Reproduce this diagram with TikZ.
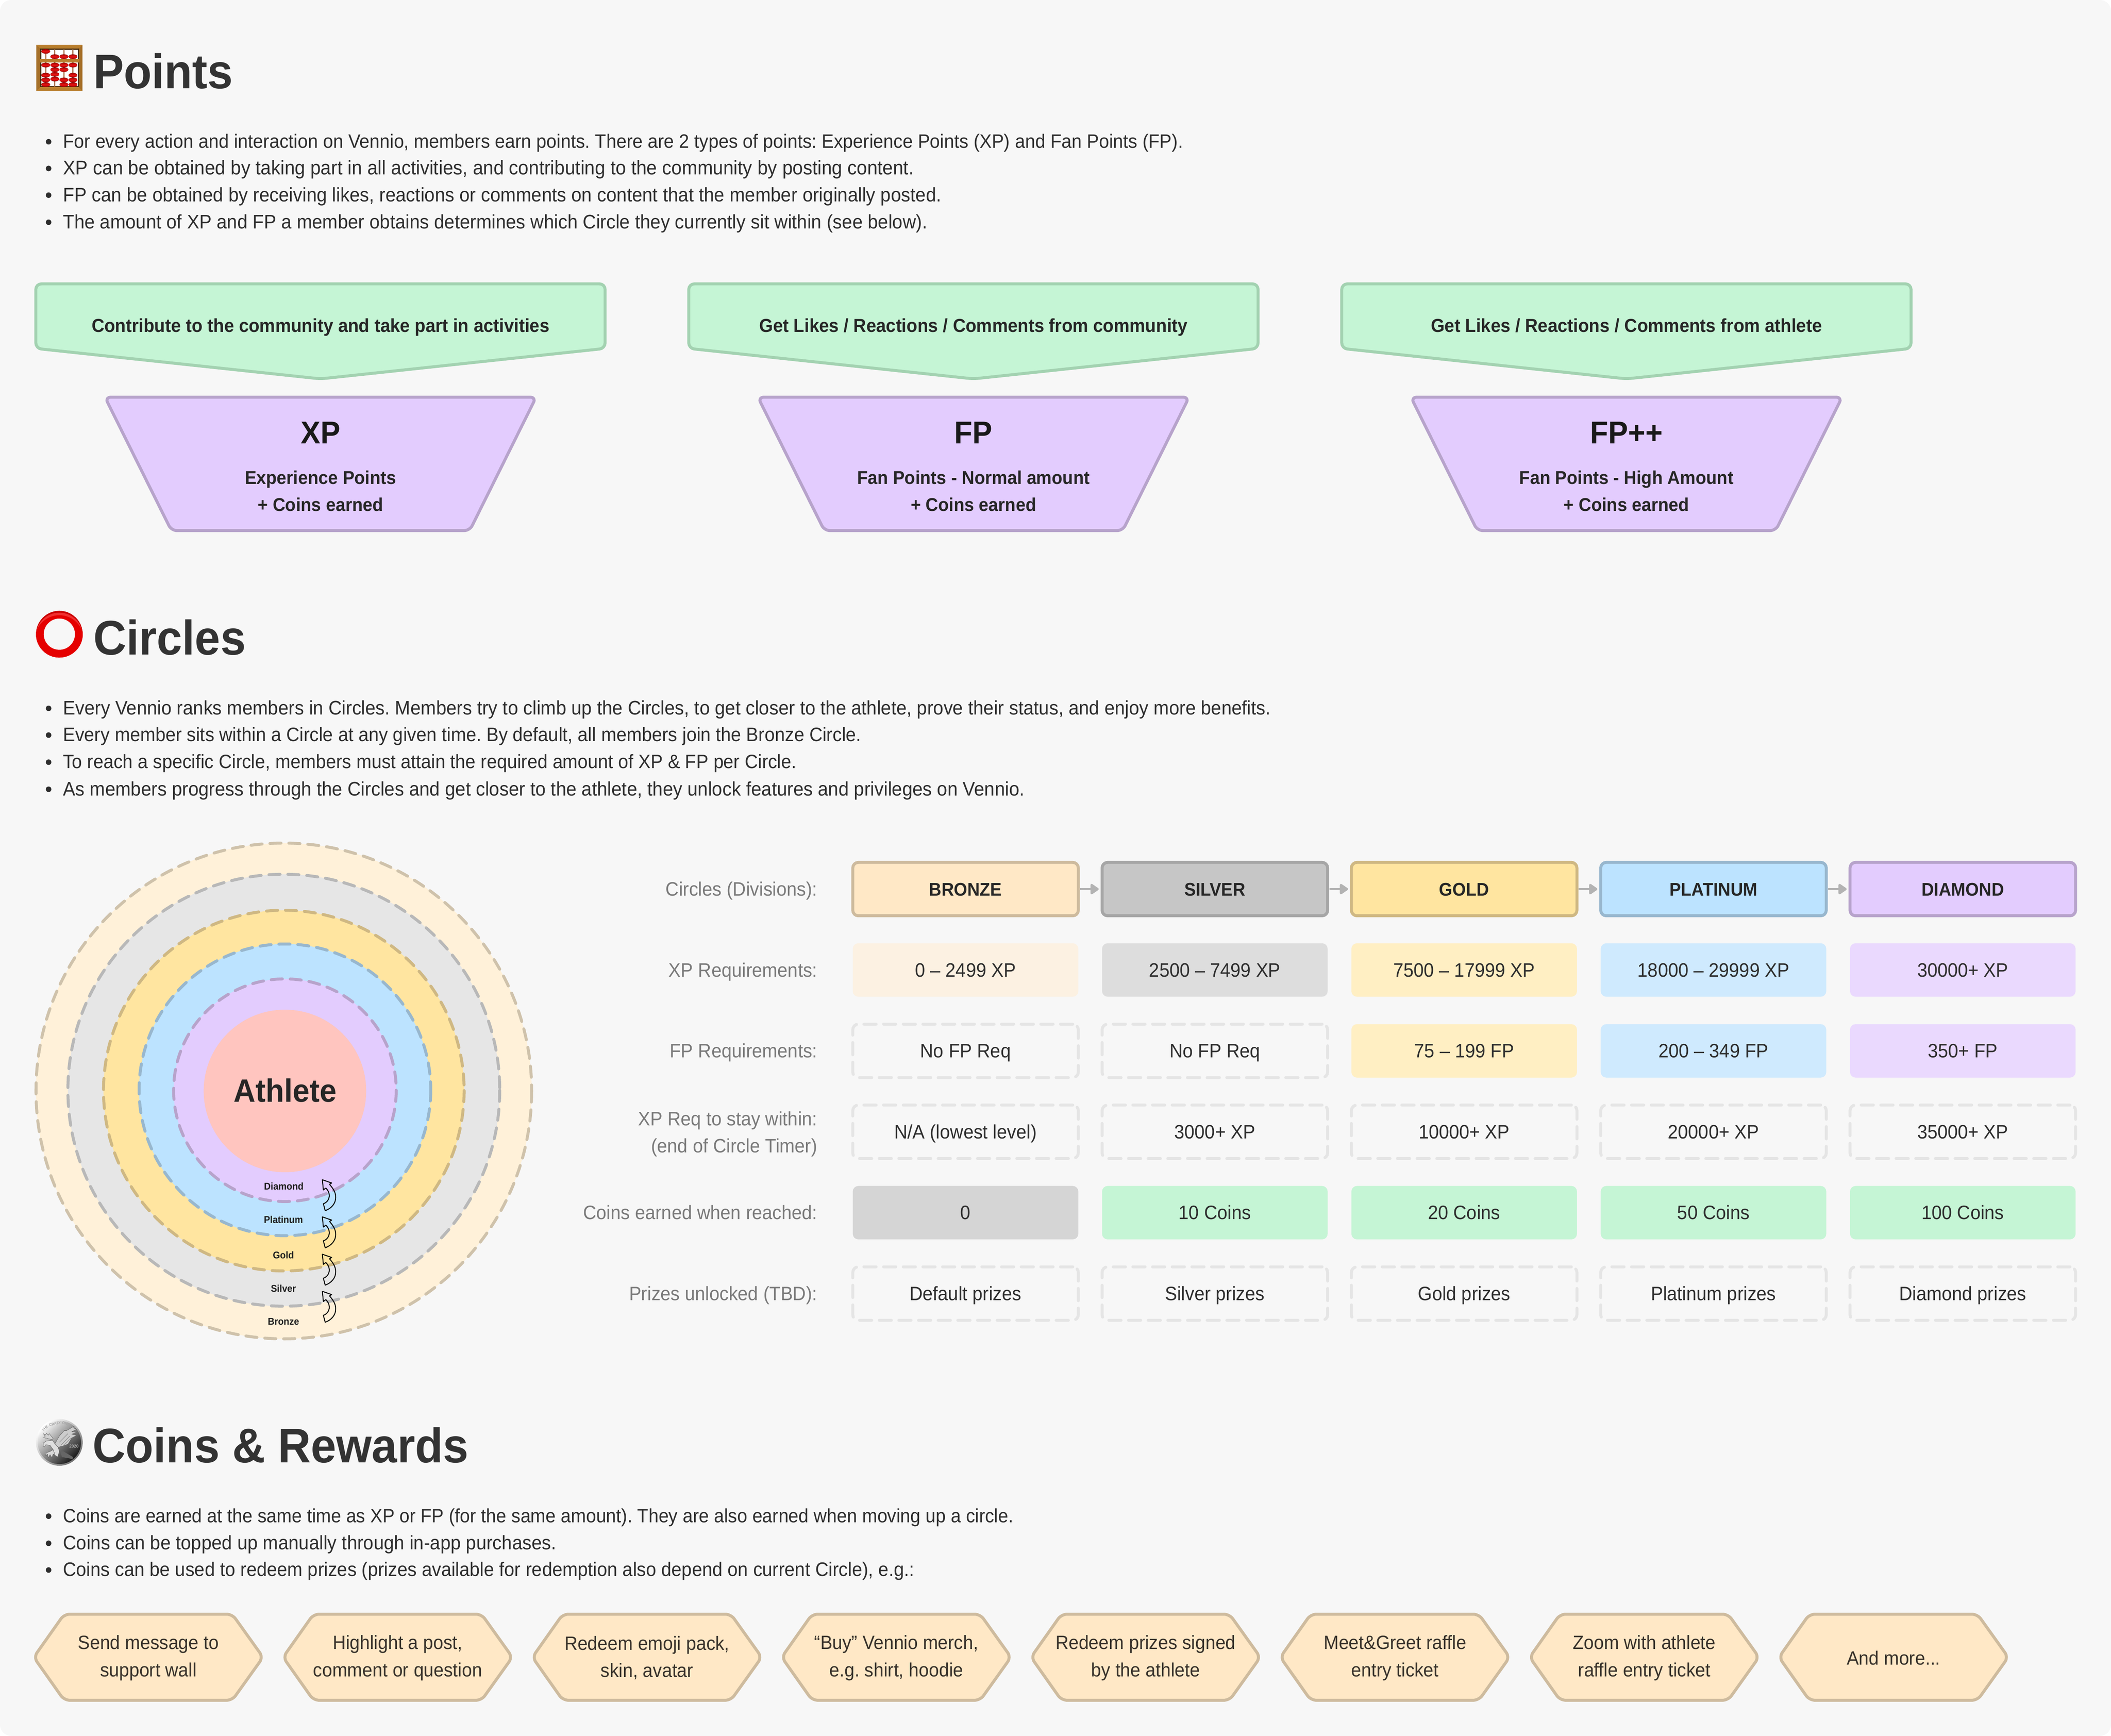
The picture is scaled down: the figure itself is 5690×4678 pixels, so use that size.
\documentclass[tikz,border=0pt]{standalone}
\usepackage{fontspec}
\setmainfont[FakeStretch=0.94]{Liberation Sans}
\usetikzlibrary{arrows.meta,calc,shapes.geometric}
\AtBeginDocument{\frenchspacing}
\definecolor{pagebg}{HTML}{F7F7F7}
\definecolor{headc}{HTML}{333333}
\definecolor{bodyc}{HTML}{2E2E2E}
\definecolor{labc}{HTML}{7A7A7A}
\definecolor{greenf}{HTML}{C5F5D5}
\definecolor{greenb}{HTML}{A3D2B1}
\definecolor{purf}{HTML}{E3CCFE}
\definecolor{purb}{HTML}{B7A3CB}
\definecolor{brzf}{HTML}{FFE8C6}
\definecolor{brzb}{HTML}{CEBB9E}
\definecolor{brzl}{HTML}{FCF1E2}
\definecolor{silf}{HTML}{C6C6C6}
\definecolor{silb}{HTML}{A6A6A6}
\definecolor{sill}{HTML}{DDDDDD}
\definecolor{gldf}{HTML}{FFE5A0}
\definecolor{gldb}{HTML}{CFB883}
\definecolor{gldl}{HTML}{FFEFC3}
\definecolor{plaf}{HTML}{BCE3FF}
\definecolor{plab}{HTML}{98B7CE}
\definecolor{plal}{HTML}{CFEAFE}
\definecolor{diaf}{HTML}{E3CCFE}
\definecolor{diab}{HTML}{B7A3CB}
\definecolor{dial}{HTML}{EAD9FE}
\definecolor{ringbz}{HTML}{FFF1D9}
\definecolor{ringbzb}{HTML}{CFC2AB}
\definecolor{ringsi}{HTML}{E6E6E6}
\definecolor{ringsib}{HTML}{B8B8B8}
\definecolor{athf}{HTML}{FFC5BF}
\definecolor{dashc}{HTML}{E5E5E5}
\definecolor{zero}{HTML}{D5D5D5}
\definecolor{arrowc}{HTML}{B3B3B3}
\definecolor{hext}{HTML}{38322B}
\definecolor{wood}{HTML}{B97F2E}
\definecolor{woodd}{HTML}{4A2E0C}
\definecolor{woodl}{HTML}{A56F28}
\definecolor{rod}{HTML}{B07A5A}
\definecolor{beadm}{HTML}{E81414}
\definecolor{beadd}{HTML}{A00000}
\definecolor{ringred}{HTML}{E50000}
\definecolor{ringhi}{HTML}{F03030}
\definecolor{ringdk}{HTML}{C90000}
\tikzset{
  heading/.style={anchor=base west,inner sep=0pt,text=headc,font=\fontsize{13.1}{14}\selectfont\bfseries},
  bullettext/.style={anchor=base west,inner sep=0pt,text=bodyc},
  bulletdot/.style={circle,fill=bodyc,inner sep=0pt,minimum size=1.5pt},
  greenshape/.style={fill=greenf,draw=greenb,line width=.8pt,rounded corners=1.5pt},
  purshape/.style={fill=purf,draw=purb,line width=.8pt,rounded corners=1.5pt},
  greentext/.style={anchor=base,inner sep=0pt,text=black!85,font=\fontsize{5.07}{7}\selectfont\bfseries},
  purbig/.style={anchor=base,inner sep=0pt,text=black!90,font=\fontsize{8.5}{9}\selectfont\bfseries},
  pursmall/.style={inner sep=0pt,align=center,text=black!85,font=\fontsize{5}{7.3}\selectfont\bfseries},
  cell/.style={rectangle,rounded corners=1.5pt,minimum width=60.8pt,minimum height=14.4pt,inner sep=0pt,outer sep=0pt,align=center,text height=4pt,text depth=.3pt,text=bodyc,font=\fontsize{5.25}{7}\selectfont},
  divcell/.style={cell,line width=.8pt,text=black!85,font=\fontsize{4.95}{7}\selectfont\bfseries},
  dashcell/.style={cell,draw=dashc,line width=.8pt,line cap=round,dash pattern=on 3.3pt off 2pt},
  rowlab/.style={anchor=east,inner sep=0pt,align=right,text=labc,font=\fontsize{5.25}{7.3}\selectfont},
  rowlabone/.style={rowlab,text height=4pt,text depth=.3pt},
  ringc/.style={line width=.8pt,line cap=round,dash pattern=on 3pt off 2.1pt},
  ringlab/.style={inner sep=0pt,text=black!88,font=\fontsize{2.65}{3}\selectfont\bfseries},
  curvearrow/.style={draw=black,line width=.25pt,line join=round},
  steparrow/.style={draw=arrowc,line width=.65pt,shorten <=.5pt,shorten >=.9pt,-{Triangle[length=2.5pt,width=3.2pt,round,fill=arrowc]}},
  hexshape/.style={fill=brzf,draw=brzb,line width=.8pt,rounded corners=1.5pt},
  hextext/.style={inner sep=0pt,align=center,text=hext,font=\fontsize{5.19}{7.3}\selectfont},
  eagle/.style={draw=black!65,line width=.07pt,line join=round},
  cointext/.style={inner sep=0pt,text=gray!70,font=\fontsize{1}{1.2}\selectfont\bfseries},
}
\newcommand{\abbead}[2]{\fill[top color=beadd,bottom color=beadd,middle color=beadm] (#1,80+#2/3) ellipse [x radius=11.8,y radius=6.2];}
\newcommand{\hexagonbox}[3]{%
  \draw[hexshape] (#2+91,4466) -- (#2+173,4350) -- (#2+626,4350) -- (#2+709,4466) -- (#2+626,4582) -- (#2+173,4582) -- cycle;
  \node[hextext] (#1) at (#2+400,4468) {#3};
}
\newcommand{\curvedarrow}[1]{%
  \begin{scope}[shift={(550,3100+#1)},x=.03333pt,y=-.03333pt]
    \draw[curvearrow] (957,238) -- (1032,264) -- (1015,275) .. controls (1045,310) and (1065,340) .. (1065,380) .. controls (1065,430) and (1030,470) .. (980,488) -- (965,432) .. controls (995,422) and (1013,395) .. (1013,365) .. controls (1013,340) and (1000,320) .. (985,305) -- (965,320) -- cycle;
  \end{scope}
}
\newcommand{\bulletline}[4]{%
  \node[bulletdot] (#1d) at (131,#2-17) {};
  \node[bullettext,font=\fontsize{#3}{7}\selectfont] (#1) at (168,#2) {#4};
}
\newcommand{\pointcard}[6]{%
  \draw[greenshape] (#1+96.5,765) -- (#1+1631,765) -- (#1+1631,939) -- (#1+864,1021) -- (#1+96.5,939) -- cycle;
  \node[greentext] (#2g) at (#1+864,895) {#3};
  \draw[purshape] (#1+283,1070.5) -- (#1+1445,1070.5) -- (#1+1266,1430) -- (#1+462,1430) -- cycle;
  \node[purbig] (#2b) at (#1+864,1195) {#4};
  \node[pursmall] (#2s) at (#1+864,1323) {#5\\#6};
}
\newcommand{\iconabacus}{%
  \fill[wood] (98,121) rectangle (222.4,245.7);
  \fill[woodl] (98,121) -- (109,131.7) -- (109,234) -- (98,245.7) -- cycle;
  \fill[woodl] (222.4,121) -- (212,131.7) -- (212,234) -- (222.4,245.7) -- cycle;
  \fill[woodd] (108,130.5) rectangle (213,235);
  \fill[white] (111,134) rectangle (210,232);
  \foreach \rx in {123.3,147.8,172.2,196.7} \fill[rod] (\rx-1.7,133) rectangle (\rx+1.7,233);
  \fill[wood] (108,159) rectangle (213,168);
  \foreach \bx/\by in {123.3/175,147.8/218,172.2/218,196.7/218,
    123.3/286,123.3/368,123.3/406,123.3/444,
    147.8/286,147.8/323,147.8/361,147.8/399,
    172.2/286,172.2/323,172.2/406,172.2/444,
    196.7/286,196.7/368,196.7/406,196.7/444} {\abbead{\bx}{\by}}
}
\newcommand{\iconring}{%
  \begin{scope}
    \clip (160,1709) circle [radius=63];
    \fill[ringdk] (160,1709) circle [radius=63];
    \fill[ringhi] (160,1714) circle [radius=63];
    \fill[ringred] (160,1724) circle [radius=66];
  \end{scope}
  \fill[pagebg] (160,1709) circle [radius=42];
}
\newcommand{\iconcoin}{%
  \shade[left color=white,right color=black!55,shading angle=45] (160,3887) circle [radius=63];
  \shade[left color=gray!5,right color=black!90,shading angle=45] (160,3887) circle [radius=58.5];
  \begin{scope}[shift={(60,3780)},x=.03333pt,y=-.03333pt]
    \fill[gray!35,eagle] (170,250) -- (186,272) -- (172,282) -- (240,298) -- (250,290) -- (218,250) -- (210,264) -- (195,245) -- (190,262) -- cycle;
    \fill[black!60] (310,397) -- (330,392) -- (410,440) -- (405,458) -- (380,450) -- (320,440) -- cycle;
    \fill[gray!25,eagle] (168,345) -- (172,325) -- (195,310) -- (245,305) -- (262,330) -- (290,360) -- (300,395) -- (285,440) -- (265,425) -- (250,380) -- (225,345) -- (190,340) -- (178,360) -- cycle;
    \fill[gray!30,eagle] (250,380) -- (225,395) -- (195,405) -- (190,430) -- (205,415) -- (210,445) -- (225,420) -- (240,445) -- (250,415) -- (265,425) -- cycle;
    \fill[gray!40,eagle] (265,330) -- (300,270) -- (340,225) -- (360,225) -- (420,190) -- (415,205) -- (440,215) -- (400,235) -- (440,240) -- (400,255) -- (440,265) -- (400,285) -- (370,335) -- (330,350) -- (290,360) -- cycle;
    \draw[black!55,line width=.07pt] (300,320) -- (370,250) (315,340) -- (385,270) (335,345) -- (395,285);
    \node[cointext,rotate=42] (cointhe) at (185,208) {THE};
    \node[cointext,rotate=12] (coincrazy) at (265,170) {CRAZY};
    \node[cointext,rotate=-18] (coinones) at (362,173) {ONES};
    \node[inner sep=0pt,text=gray!60,font=\fontsize{1.2}{1.4}\selectfont\bfseries] (coinyear) at (418,353) {2020};
  \end{scope}
}
\begin{document}
\begin{tikzpicture}[x=.1pt,y=-.1pt]
\useasboundingbox (0,0) rectangle (5690,4678);
\fill[white] (0,0) rectangle (5690,4678);
\fill[pagebg,rounded corners=3pt] (0,0) rectangle (5690,4678);

\iconabacus
\node[heading] (hpoints) at (250,238) {Points};

\bulletline{p1}{399}{5.22}{For every action and interaction on Vennio, members earn points. There are 2 types of points: Experience Points (XP) and Fan Points (FP).}
\bulletline{p2}{471}{5.34}{XP can be obtained by taking part in all activities, and contributing to the community by posting content.}
\bulletline{p3}{543}{5.30}{FP can be obtained by receiving likes, reactions or comments on content that the member originally posted.}
\bulletline{p4}{616}{5.29}{The amount of XP and FP a member obtains determines which Circle they currently sit within (see below).}

\pointcard{0}{xp}{Contribute to the community and take part in activities}{XP}{Experience Points}{+ Coins earned}
\pointcard{1760}{fp}{Get Likes / Reactions / Comments from community}{FP}{Fan Points - Normal amount}{+ Coins earned}
\pointcard{3520}{fpp}{Get Likes / Reactions / Comments from athlete}{FP++}{Fan Points - High Amount}{+ Coins earned}

\iconring
\node[heading] (hcircles) at (250,1764) {Circles};

\bulletline{c1}{1926}{5.29}{Every Vennio ranks members in Circles. Members try to climb up the Circles, to get closer to the athlete, prove their status, and enjoy more benefits.}
\bulletline{c2}{1998}{5.24}{Every member sits within a Circle at any given time. By default, all members join the Bronze Circle.}
\bulletline{c3}{2071}{5.22}{To reach a specific Circle, members must attain the required amount of XP \& FP per Circle.}
\bulletline{c4}{2144}{5.30}{As members progress through the Circles and get closer to the athlete, they unlock features and privileges on Vennio.}

% ---------- rings
\draw[ringc,fill=ringbz,draw=ringbzb] (765,2940) circle [radius=668];
\draw[ringc,fill=ringsi,draw=ringsib] (765,2938) circle [radius=582];
\draw[ringc,fill=gldf,draw=gldb] (765,2939) circle [radius=486];
\draw[ringc,fill=plaf,draw=plab] (768,2937) circle [radius=393];
\draw[ringc,fill=diaf,draw=diab] (768,2938) circle [radius=300];
\fill[athf] (768,2940) circle [radius=219];
\node[inner sep=0pt,text=black!85,font=\fontsize{8.7}{9}\selectfont\bfseries] (athlete) at (769,2938) {Athlete};
\node[ringlab] (ldia) at (765,3197) {Diamond};
\node[ringlab] (lpla) at (764,3287) {Platinum};
\node[ringlab] (lgol) at (764,3382) {Gold};
\node[ringlab] (lsil) at (764,3472) {Silver};
\node[ringlab] (lbro) at (764,3562) {Bronze};
\curvedarrow{0}
\curvedarrow{100}
\curvedarrow{200.7}
\curvedarrow{300.7}

% ---------- table
\node[rowlabone] (r1) at (2205,2396) {Circles (Divisions):};
\node[rowlabone] (r2) at (2205,2614) {XP Requirements:};
\node[rowlabone] (r3) at (2205,2832) {FP Requirements:};
\node[rowlab] (r4) at (2205,3056) {XP Req to stay within:\\(end of Circle Timer)};
\node[rowlabone] (r5) at (2205,3268) {Coins earned when reached:};
\node[rowlabone] (r6) at (2205,3486) {Prizes unlocked (TBD):};

\node[divcell,fill=brzf,draw=brzb] (d1) at (2602.5,2396) {BRONZE};
\node[divcell,fill=silf,draw=silb] (d2) at (3274.5,2396) {SILVER};
\node[divcell,fill=gldf,draw=gldb] (d3) at (3946.5,2396) {GOLD};
\node[divcell,fill=plaf,draw=plab] (d4) at (4618.5,2396) {PLATINUM};
\node[divcell,fill=diaf,draw=diab] (d5) at (5290.5,2396) {DIAMOND};
\draw[steparrow] (d1) -- (d2);
\draw[steparrow] (d2) -- (d3);
\draw[steparrow] (d3) -- (d4);
\draw[steparrow] (d4) -- (d5);

\node[cell,fill=brzl] (x1) at (2602.5,2614) {0 – 2499 XP};
\node[cell,fill=sill] (x2) at (3274.5,2614) {2500 – 7499 XP};
\node[cell,fill=gldl] (x3) at (3946.5,2614) {7500 – 17999 XP};
\node[cell,fill=plal] (x4) at (4618.5,2614) {18000 – 29999 XP};
\node[cell,fill=dial] (x5) at (5290.5,2614) {30000+ XP};

\node[dashcell] (f1) at (2602.5,2832) {No FP Req};
\node[dashcell] (f2) at (3274.5,2832) {No FP Req};
\node[cell,fill=gldl] (f3) at (3946.5,2832) {75 – 199 FP};
\node[cell,fill=plal] (f4) at (4618.5,2832) {200 – 349 FP};
\node[cell,fill=dial] (f5) at (5290.5,2832) {350+ FP};

\node[dashcell] (s1) at (2602.5,3050) {N/A (lowest level)};
\node[dashcell] (s2) at (3274.5,3050) {3000+ XP};
\node[dashcell] (s3) at (3946.5,3050) {10000+ XP};
\node[dashcell] (s4) at (4618.5,3050) {20000+ XP};
\node[dashcell] (s5) at (5290.5,3050) {35000+ XP};

\node[cell,fill=zero] (k1) at (2602.5,3268) {0};
\node[cell,fill=greenf] (k2) at (3274.5,3268) {10 Coins};
\node[cell,fill=greenf] (k3) at (3946.5,3268) {20 Coins};
\node[cell,fill=greenf] (k4) at (4618.5,3268) {50 Coins};
\node[cell,fill=greenf] (k5) at (5290.5,3268) {100 Coins};

\node[dashcell] (z1) at (2602.5,3486) {Default prizes};
\node[dashcell] (z2) at (3274.5,3486) {Silver prizes};
\node[dashcell] (z3) at (3946.5,3486) {Gold prizes};
\node[dashcell] (z4) at (4618.5,3486) {Platinum prizes};
\node[dashcell] (z5) at (5290.5,3486) {Diamond prizes};

\iconcoin
\node[heading] (hcoins) at (248,3941) {Coins \& Rewards};

\bulletline{m1}{4103}{5.20}{Coins are earned at the same time as XP or FP (for the same amount). They are also earned when moving up a circle.}
\bulletline{m2}{4176}{5.29}{Coins can be topped up manually through in-app purchases.}
\bulletline{m3}{4248}{5.26}{Coins can be used to redeem prizes (prizes available for redemption also depend on current Circle), e.g.:}

\hexagonbox{h1}{0}{Send message to\\support wall}
\hexagonbox{h2}{672}{Highlight a post,\\comment or question}
\hexagonbox{h3}{1344}{Redeem emoji pack,\\skin, avatar}
\hexagonbox{h4}{2016}{“Buy” Vennio merch,\\e.g. shirt, hoodie}
\hexagonbox{h5}{2688}{Redeem prizes signed\\by the athlete}
\hexagonbox{h6}{3360}{Meet\&Greet raffle\\entry ticket}
\hexagonbox{h7}{4032}{Zoom with athlete\\raffle entry ticket}
\hexagonbox{h8}{4704}{And more...}
\end{tikzpicture}
\end{document}
